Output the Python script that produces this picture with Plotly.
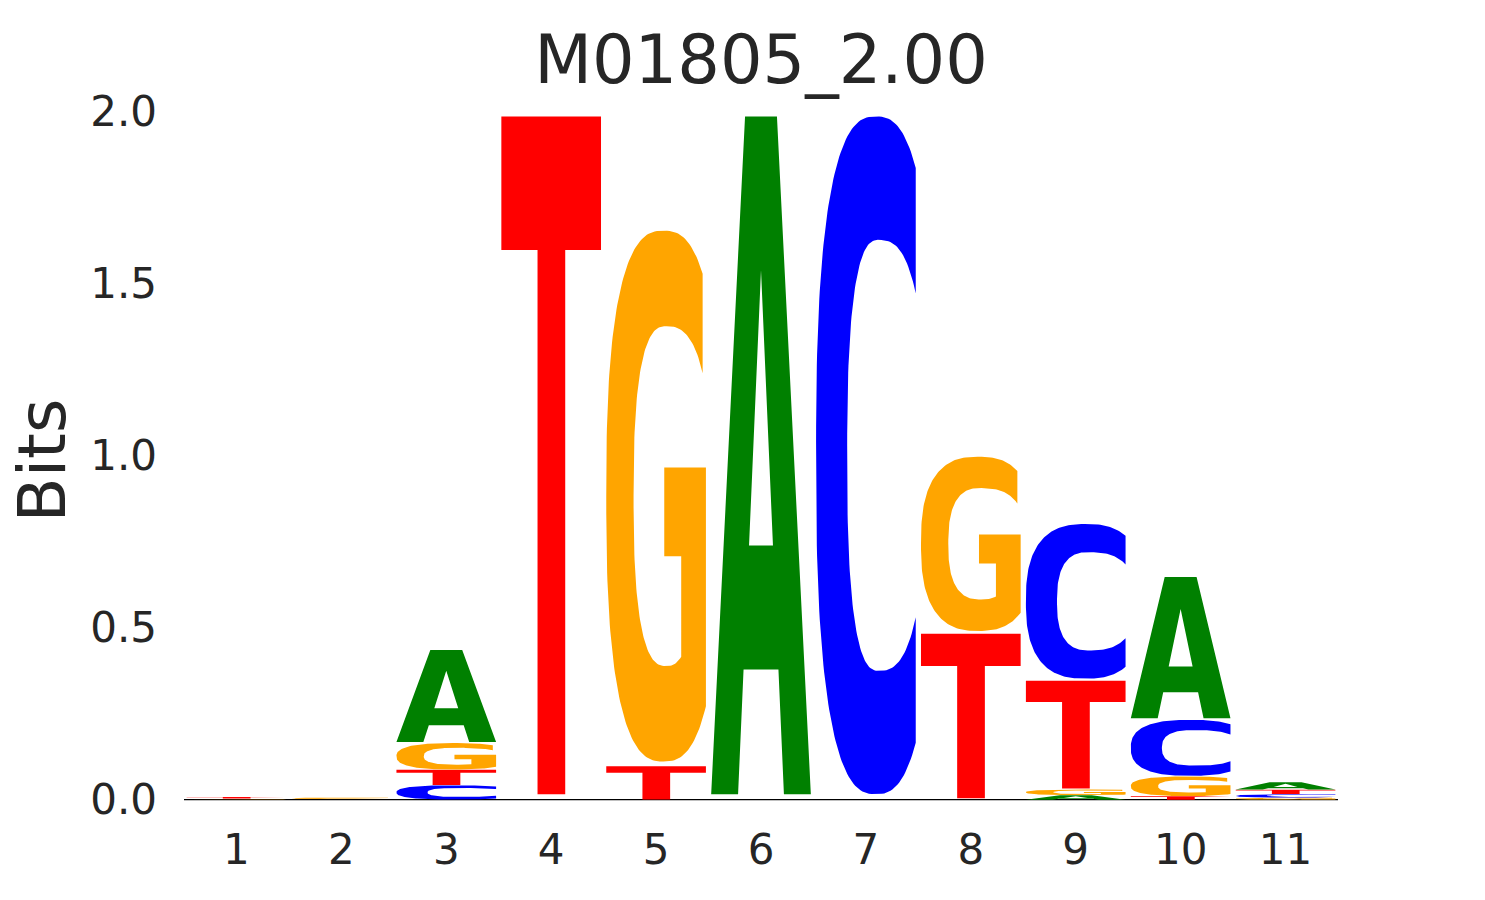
import numpy as np
import plotly.graph_objects as go

# ---------------- data (bits per letter, per position) ----------------
positions = [1, 2, 3, 4, 5, 6, 7, 8, 9, 10, 11]
tick_labels = ["1", "2", "3", "4", "5", "6", "7", "8", "9", "10", "11"]
bits_A = [0.0015, 0.0005, 0.272, 0.0, 0.0, 2.0, 0.0, 0.0, 0.013, 0.417, 0.022]
bits_C = [0.0010, 0.0010, 0.042, 0.0, 0.0, 0.0, 2.0, 0.0, 0.456, 0.165, 0.010]
bits_G = [0.0005, 0.0040, 0.078, 0.0, 1.567, 0.0, 0.0, 0.514, 0.017, 0.058, 0.006]
bits_T = [0.0050, 0.0005, 0.045, 2.0, 0.098, 0.0, 0.0, 0.486, 0.318, 0.010, 0.013]
y_ticks = [0.0, 0.5, 1.0, 1.5, 2.0]
title_text = "M01805_2.00"
y_label = "Bits"

colors = {"A": "#008000", "C": "#0000ff", "G": "#ffa500", "T": "#ff0000"}
GLYPH_W = 0.95
VPAD = 0.008
TXT = "#262626"
FONT = "DejaVu Sans"


# ---------------- glyph outlines in a unit box ----------------
def se_arc(cx, cy, a_l, a_rt, a_rb, b, n, t0, t1, steps=90):
    ts = np.radians(np.linspace(t0, t1, steps))
    e = 2.0 / n
    c, s = np.cos(ts), np.sin(ts)
    a = np.where(c < 0, a_l, np.where(s >= 0, a_rt, a_rb))
    x = cx + a * np.sign(c) * np.abs(c) ** e
    y = cy + b * np.sign(s) * np.abs(s) ** e
    return list(x), list(y)


def t_for_x(xt, cx, a, n):
    return np.degrees(np.arccos(((xt - cx) / a) ** (n / 2.0)))


N = 2.6


def glyph_T():
    xs = [0, 1, 1, 0.641, 0.641, 0.363, 0.363, 0]
    ys = [1, 1, 0.803, 0.803, 0, 0, 0.803, 0.803]
    return [(xs, ys)]


def glyph_A():
    xo = [0, 0.27, 0.325, 0.675, 0.73, 1, 0.66, 0.34]
    yo = [0, 0, 0.184, 0.184, 0, 0, 1, 1]
    xi = [0.38, 0.5, 0.62]
    yi = [0.367, 0.773, 0.367]
    return [(xo, yo), (xi, yi)]


def glyph_C():
    cx, a = 0.6, 0.6
    t0 = t_for_x(1.0, cx, a, N)
    xo, yo = se_arc(cx, 0.5, a, a, a, 0.5, N, t0, 360 - t0, 160)
    cxi, al, ar, bi = 0.63, 0.318, 0.474, 0.318
    ti = t_for_x(1.0, cxi, ar, N)
    xi, yi = se_arc(cxi, 0.5, al, ar, ar, bi, N, 360 - ti, ti, 140)
    return [(xo + xi, yo + yi)]


def glyph_G():
    cx, a = 0.575, 0.575
    t0 = t_for_x(0.967, cx, a, N)
    t1 = 360 - t_for_x(1.0, cx, a, N)
    xo, yo = se_arc(cx, 0.5, a, a, a, 0.5, N, t0, t1, 160)
    y_end = yo[-1]
    xb = [1.0, 1.0, 0.582, 0.582, 0.752]
    yb = [y_end, 0.554, 0.554, 0.387, 0.387]
    cxi, al, art, arb, bi = 0.60, 0.326, 0.456, 0.326, 0.32
    tb = 360 - t_for_x(0.752, cxi, arb, N)
    tt = t_for_x(0.967, cxi, art, N)
    xi, yi = se_arc(cxi, 0.5, al, art, arb, bi, N, tb, tt, 140)
    return [(xo + xb + xi, yo + yb + yi)]


GLYPHS = {"A": glyph_A(), "C": glyph_C(), "G": glyph_G(), "T": glyph_T()}

# ---------------- build figure ----------------
fig = go.Figure()

fig.add_trace(go.Scatter(
    x=[positions[0] - 0.5, positions[-1] + 0.5], y=[0, 0], mode="lines",
    line=dict(color="black", width=1.2), hoverinfo="skip", showlegend=False))

table = {"A": bits_A, "C": bits_C, "G": bits_G, "T": bits_T}
for i, p in enumerate(positions):
    col = sorted([(table[L][i], L) for L in "ACGT"], key=lambda v: v[0])
    floor = 0.0
    for h, L in col:
        if h <= 0:
            continue
        X, Y = [], []
        for k, (ux, uy) in enumerate(GLYPHS[L]):
            if k > 0:
                X.append(None)
                Y.append(None)
            ux = np.asarray(ux, dtype=float)
            uy = np.asarray(uy, dtype=float)
            X += list(p - GLYPH_W / 2 + GLYPH_W * ux) + [p - GLYPH_W / 2 + GLYPH_W * ux[0]]
            Y += list(floor + h * (VPAD + (1 - 2 * VPAD) * uy)) + [floor + h * (VPAD + (1 - 2 * VPAD) * uy[0])]
        fig.add_trace(go.Scatter(
            x=X, y=Y, mode="lines", fill="toself", fillcolor=colors[L],
            line=dict(width=0, color=colors[L]), hoverinfo="skip", showlegend=False))
        floor += h

fig.update_layout(
    width=1485, height=900,
    paper_bgcolor="white", plot_bgcolor="white",
    margin=dict(l=184, r=147, t=111, b=90),
    font=dict(family=FONT, color=TXT),
    title=dict(text=title_text, x=0.5, xref="paper", xanchor="center",
               y=1 - 60 / 900, yref="container", yanchor="middle",
               font=dict(size=67, family=FONT, color=TXT)),
    xaxis=dict(range=[positions[0] - 0.5, positions[-1] + 0.5],
               tickvals=positions, ticktext=tick_labels,
               showgrid=False, zeroline=False, showline=False, ticks="",
               tickfont=dict(size=42, family=FONT, color=TXT),
               ticklabelstandoff=11),
    yaxis=dict(range=[-0.03, 2.0], tickvals=y_ticks,
               ticktext=[f"{v:.1f}" for v in y_ticks],
               showgrid=False, zeroline=False, showline=False, ticks="",
               tickfont=dict(size=42, family=FONT, color=TXT),
               ticklabelstandoff=26),
    annotations=[dict(text=y_label, textangle=-90, xref="paper", yref="paper",
                      x=0, y=0.5, xanchor="center", yanchor="middle",
                      xshift=-(184 - 42), showarrow=False,
                      font=dict(size=66, family=FONT, color=TXT))],
)

fig.write_html("out.html", config={"displayModeBar": False},
               post_script="document.body.style.margin='0';")
